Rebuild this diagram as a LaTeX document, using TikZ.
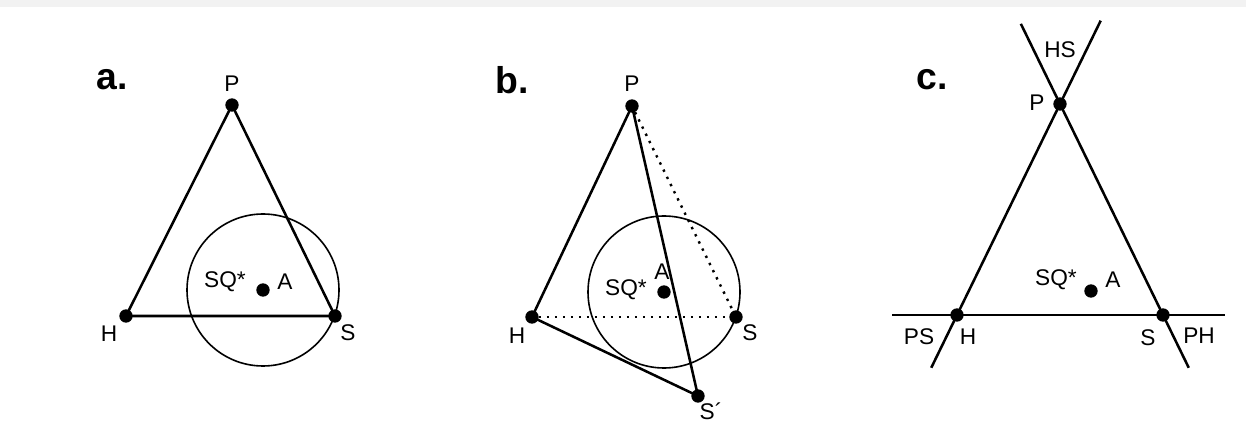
\documentclass[tikz,border=0pt]{standalone}
\usepackage{fontspec}
\setmainfont{Liberation Sans}
\usetikzlibrary{positioning, calc}

\tikzset{
  pt/.style={circle, fill=black, inner sep=0pt, minimum size=10pt},
  lbl/.style={inner sep=0pt, font=\fontsize{17}{19}\selectfont},
  panel/.style={inner sep=0pt, font=\fontsize{28}{30}\selectfont\bfseries},
  edge/.style={line width=1.9pt, line join=round},
  ring/.style={line width=1.2pt},
  dots/.style={line width=1.8pt, dash pattern=on 1.8pt off 4.2pt},
}

\begin{document}
\begin{tikzpicture}[x=0.75pt, y=-0.75pt]
  \useasboundingbox (0,0) rectangle (1246,438);
  \fill[gray!10] (0,0) rectangle (1246,7);

  % a. triangle with circle round the ideal point
  \node[panel] (la) at (112,80) {a.};
  \node[pt] (aP) at (232,105) {};
  \node[pt] (aH) at (126,316) {};
  \node[pt] (aS) at (335,316) {};
  \node[pt] (aA) at (263,290) {};
  \draw[ring] (aA.center) circle[radius=76];
  \draw[edge] (aH.center) -- (aP.center) -- (aS.center) -- cycle;
  \node[lbl] (aPl) at (232,84) {P};
  \node[lbl] (aHl) at (109,334) {H};
  \node[lbl] (aSl) at (348,333) {S};
  \node[lbl] (aQl) at (225,282) {SQ*};
  \node[lbl] (aAl) at (285,282) {A};

  % b. S moved to S'
  \node[panel] (lb) at (512,80) {b.};
  \node[pt] (bP) at (632,106) {};
  \node[pt] (bH) at (532,317) {};
  \node[pt] (bS) at (736,317) {};
  \node[pt] (bT) at (698,396) {};
  \node[pt] (bA) at (664,292) {};
  \draw[ring] (bA.center) circle[radius=76];
  \draw[edge] (bH.center) -- (bP.center) -- (bT.center) -- cycle;
  \draw[dots] (bP) -- (bS);
  \draw[dots] (bH) -- (bS);
  \node[lbl] (bPl) at (632,84) {P};
  \node[lbl] (bHl) at (517,336) {H};
  \node[lbl] (bSl) at (750,333) {S};
  \node[lbl] (bTl) at (711,411) {S´};
  \node[lbl] (bQl) at (626,290) {SQ*};
  \node[lbl] (bAl) at (662,272) {A};

  % c. the three lines through the points
  \node[panel] (lc) at (932,80) {c.};
  \node[pt] (cP) at (1060,104) {};
  \node[pt] (cH) at (957,315) {};
  \node[pt] (cS) at (1163,315) {};
  \node[pt] (cA) at (1091,291) {};
  \coordinate (cHlo) at ($(cH)!-0.25!(cP)$);
  \coordinate (cHhi) at ($(cH)!1.395!(cP)$);
  \coordinate (cSlo) at ($(cS)!-0.25!(cP)$);
  \coordinate (cShi) at ($(cS)!1.38!(cP)$);
  \coordinate (cL) at (892,315);
  \coordinate (cR) at (1225,315);
  \draw[edge] (cHlo) -- (cHhi);
  \draw[edge] (cSlo) -- (cShi);
  \draw[edge] (cL) -- (cR);
  \node[lbl] (cHSl) at (1060,50) {HS};
  \node[lbl] (cPl) at (1037,103) {P};
  \node[lbl] (cPSl) at (919,337) {PS};
  \node[lbl] (cHl) at (968,337) {H};
  \node[lbl] (cSl) at (1148,338) {S};
  \node[lbl] (cPHl) at (1199,336) {PH};
  \node[lbl] (cQl) at (1056,280) {SQ*};
  \node[lbl] (cAl) at (1113,280) {A};
\end{tikzpicture}
\end{document}
